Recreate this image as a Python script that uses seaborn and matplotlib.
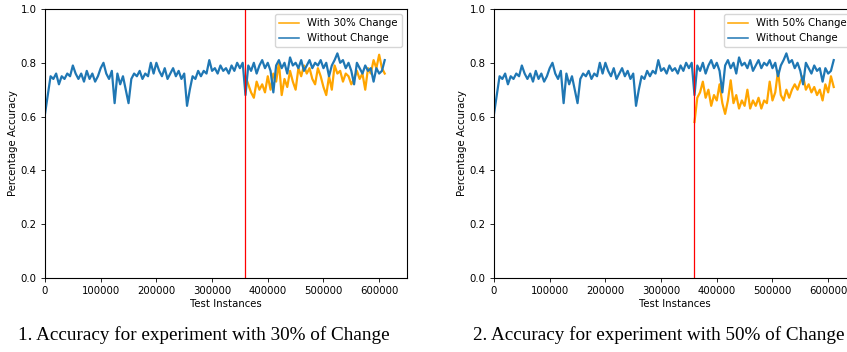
import numpy as np
import pandas as pd
import seaborn as sns
import matplotlib
matplotlib.use("Agg")
import matplotlib.pyplot as plt

# sampling step of the accuracy curves (test instances)
step = 5000
change_start = 360000

# accuracy without change (same baseline in both experiments), from 0 on
acc_base = [0.61, 0.68, 0.75, 0.74, 0.76, 0.72, 0.75, 0.74, 0.76, 0.75,
            0.79, 0.76, 0.74, 0.76, 0.73, 0.77, 0.74, 0.76, 0.73, 0.75,
            0.78, 0.80, 0.76, 0.74, 0.77, 0.65, 0.76, 0.72, 0.75, 0.70,
            0.65, 0.74, 0.76, 0.75, 0.77, 0.74, 0.76, 0.75, 0.80, 0.76,
            0.80, 0.77, 0.75, 0.78, 0.74, 0.76, 0.78, 0.75, 0.77, 0.74,
            0.76, 0.64, 0.70, 0.75, 0.74, 0.77, 0.75, 0.77, 0.76, 0.81,
            0.77, 0.78, 0.76, 0.79, 0.77, 0.78, 0.76, 0.79, 0.77, 0.80,
            0.78, 0.80, 0.68, 0.79, 0.77, 0.80, 0.76, 0.79, 0.81, 0.78,
            0.80, 0.77, 0.69, 0.79, 0.81, 0.78, 0.80, 0.76, 0.82, 0.79,
            0.80, 0.78, 0.81, 0.77, 0.79, 0.81, 0.78, 0.80, 0.79, 0.81,
            0.78, 0.80, 0.75, 0.79, 0.81, 0.835, 0.80, 0.81, 0.78, 0.80,
            0.77, 0.72, 0.80, 0.78, 0.76, 0.79, 0.77, 0.78, 0.73, 0.78,
            0.76, 0.77, 0.81]

# accuracy with 30% change, from 360000 on
acc_30 = [0.75, 0.72, 0.69, 0.67, 0.73, 0.70, 0.72, 0.69, 0.75, 0.70,
          0.76, 0.73, 0.80, 0.68, 0.74, 0.71, 0.77, 0.73, 0.70, 0.78,
          0.75, 0.79, 0.76, 0.78, 0.74, 0.72, 0.78, 0.75, 0.71, 0.68,
          0.75, 0.70, 0.79, 0.76, 0.77, 0.73, 0.76, 0.75, 0.72, 0.74,
          0.77, 0.74, 0.76, 0.70, 0.78, 0.76, 0.81, 0.78, 0.83, 0.78,
          0.76]

# accuracy with 50% change, from 360000 on
acc_50 = [0.58, 0.67, 0.69, 0.73, 0.67, 0.70, 0.64, 0.68, 0.66, 0.72,
          0.65, 0.61, 0.66, 0.735, 0.65, 0.68, 0.63, 0.66, 0.64, 0.70,
          0.63, 0.66, 0.64, 0.67, 0.63, 0.66, 0.65, 0.73, 0.66, 0.69,
          0.77, 0.68, 0.66, 0.70, 0.67, 0.70, 0.72, 0.70, 0.73, 0.75,
          0.70, 0.72, 0.69, 0.71, 0.68, 0.70, 0.66, 0.72, 0.69, 0.75,
          0.71]

x_ticks = [0, 100000, 200000, 300000, 400000, 500000, 600000]
y_ticks = [0.0, 0.2, 0.4, 0.6, 0.8, 1.0]

base = pd.DataFrame({"inst": np.arange(len(acc_base)) * step, "acc": acc_base})

plt.rcParams.update({
    "font.family": "DejaVu Sans",
    "font.size": 7.3,
    "axes.linewidth": 0.8,
    "xtick.major.size": 2.6,
    "ytick.major.size": 2.6,
    "xtick.major.width": 0.6,
    "ytick.major.width": 0.6,
})

fig = plt.figure(figsize=(8.47, 3.52), dpi=100)
ax1 = fig.add_axes([45 / 847, 74 / 352, 362 / 847, 269 / 352])
ax2 = fig.add_axes([494 / 847, 74 / 352, 362 / 847, 269 / 352])

panels = [(ax1, acc_30, "With 30% Change", "1. Accuracy for experiment with 30% of Change", 0.241),
          (ax2, acc_50, "With 50% Change", "2. Accuracy for experiment with 50% of Change", 0.778)]

for ax, vals, lab, caption, cx in panels:
    changed = pd.DataFrame({"inst": change_start + np.arange(len(vals)) * step, "acc": vals})
    sns.lineplot(data=changed, x="inst", y="acc", color="orange", lw=1.6, label=lab, ax=ax)
    sns.lineplot(data=base, x="inst", y="acc", color="#1f77b4", lw=1.6, label="Without Change", ax=ax)
    ax.axvline(change_start, color="red", lw=0.9)
    ax.set_xlim(0, 650000)
    ax.set_ylim(0, 1.0)
    ax.set_xticks(x_ticks)
    ax.set_xticklabels([str(t) for t in x_ticks])
    ax.set_yticks(y_ticks)
    ax.set_xlabel("Test Instances", labelpad=1.5)
    ax.set_ylabel("Percentage Accuracy", labelpad=2)
    leg = ax.legend(loc="upper right", fontsize=7.3, framealpha=0.8, borderpad=0.4, handlelength=2)
    for line in leg.get_lines():
        line.set_linewidth(1.1)
    fig.text(cx, 0.048, caption, ha="center", va="center",
             family="Liberation Serif", fontsize=13.8)

fig.savefig("out.png", dpi=100)
